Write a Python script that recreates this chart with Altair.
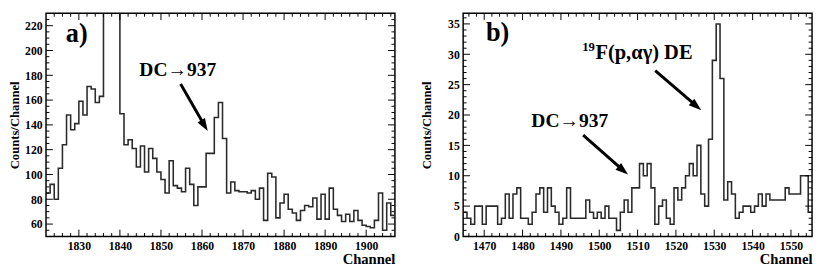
import altair as alt
import pandas as pd

FONT = "Liberation Serif"

# ---------------- panel a) ----------------
a_first_edge = 1822
a_counts = [85, 92, 80, 105, 124, 148, 136, 141, 159, 148, 171, 169, 158, 163,
            420, 1150, 980, 380,
            149, 124, 128, 121, 106, 123, 102, 121, 113, 102,
            96, 85, 111, 91, 89, 86, 105, 92, 75, 90,
            90, 117, 117, 146, 158, 129, 85, 94, 87, 86,
            86, 85, 87, 80, 89, 63, 101, 98, 65, 77,
            84, 72, 69, 63, 71, 75, 74, 81, 64, 84,
            64, 89, 72, 67, 62, 68, 62, 71, 63, 59,
            58, 57, 63, 85, 55, 77, 67]
a_x_domain = [1822, 1907]
a_y_domain = [50, 230]
a_x_labels = [1830, 1840, 1850, 1860, 1870, 1880, 1890, 1900]
a_y_labels = [60, 80, 100, 120, 140, 160, 180, 200, 220]
a_x_minor_step = 2
a_y_minor_step = 5

# ---------------- panel b) ----------------
b_first_edge = 1464.5
b_counts = [4, 3, 2, 5, 5, 2, 5, 5, 5, 2,
            3, 7, 3, 7, 8, 3, 3, 2, 4, 7,
            8, 4, 8, 5, 4, 2, 3, 8, 3, 3,
            3, 3, 6, 4, 3, 4, 3, 5, 3, 3,
            1, 4, 6, 4, 8, 8, 12, 10, 12, 8,
            2, 5, 6, 3, 2, 8, 6, 8, 10, 12,
            10, 15, 7, 5, 16, 29, 35, 26, 6, 9,
            7, 3, 4, 5, 5, 4, 5, 7, 5, 7,
            6, 6, 6, 6, 8, 7, 7, 7, 10, 10, 4]
b_x_domain = [1464.5, 1555.5]
b_y_domain = [0, 36.75]
b_x_labels = [1470, 1480, 1490, 1500, 1510, 1520, 1530, 1540, 1550]
b_y_labels = [0, 5, 10, 15, 20, 25, 30, 35]
b_x_minor_step = 2
b_y_minor_step = 1

# annotations (data coordinates)
a_texts = [
    {"x": 1829.5, "y": 213, "t": "a)", "size": 27},
    {"x": 1854.1, "y": 184, "t": "DC\u2192937", "size": 20},
]
a_arrows = [{"id": 0, "x0": 1854.8, "y0": 173, "x1": 1861.4, "y1": 135, "ang": 149}]

b_texts = [
    {"x": 1473.5, "y": 33.4, "t": "b)", "size": 27},
    {"x": 1492.3, "y": 19.0, "t": "DC\u2192937", "size": 20},
]
b_sup = [{"x": 1499.0, "ys": 30.6, "yb": 29.2}]
b_arrows = [
    {"id": 0, "x0": 1514.6, "y0": 27.3, "x1": 1526.6, "y1": 20.8, "ang": 130},
    {"id": 1, "x0": 1495.8, "y0": 16.7, "x1": 1507.5, "y1": 10.2, "ang": 130},
]

H = 229
MAJ = 7
MIN = 3.5
ARROW_PATH = "M0,0L0.75,2.2L-0.75,2.2Z"


def minor(dom, step, majors):
    import math
    start = math.ceil(dom[0] / step) * step
    out = []
    v = start
    while v <= dom[1] + 1e-9:
        if all(abs(v - m) > 1e-9 for m in majors) and dom[0] < v < dom[1]:
            out.append(v)
        v += step
    return out


def build(first_edge, counts, xdom, ydom, xlab, ylab, xstep, ystep, W,
          texts, arrows, sup=None, ytitle_pad=4):
    xs = alt.Scale(domain=xdom, nice=False, zero=False)
    ys = alt.Scale(domain=ydom, nice=False, zero=False)
    xaxis = alt.Axis(values=xlab, ticks=False, domain=False, grid=False,
                     labelFont=FONT, labelFontWeight="bold", labelFontSize=12,
                     labelPadding=4, labelColor="black", format="d",
                     title="Channel", titleFont=FONT, titleFontWeight="bold",
                     titleFontSize=15, titleAnchor="end", titlePadding=1,
                     titleColor="black")
    yaxis = alt.Axis(values=ylab, ticks=False, domain=False, grid=False,
                     labelFont=FONT, labelFontWeight="bold", labelFontSize=12,
                     labelPadding=4, labelColor="black", format="d",
                     title="Counts/Channel", titleFont=FONT,
                     titleFontWeight="bold", titleFontSize=13,
                     titlePadding=ytitle_pad, titleColor="black")

    def X(f):
        return alt.X(f, type="quantitative", scale=xs, axis=xaxis)

    def Y(f):
        return alt.Y(f, type="quantitative", scale=ys, axis=yaxis)

    edges = [first_edge + i for i in range(len(counts) + 1)]
    vals = list(counts) + [counts[-1]]
    hist_df = pd.DataFrame({"ch": edges, "n": vals})
    hist = alt.Chart(hist_df).mark_line(
        interpolate="step-after", color="#2a2a2a", strokeWidth=1.6, clip=True
    ).encode(x=X("ch"), y=Y("n"))

    layers = [hist]
    xmin = minor(xdom, xstep, xlab)
    ymin = minor(ydom, ystep, ylab)
    for vals_, L in [(xlab, MAJ), (xmin, MIN)]:
        base = alt.Chart(pd.DataFrame({"v": vals_})).mark_rule(color="black", strokeWidth=1)
        layers.append(base.encode(x=X("v"), y=alt.value(H), y2=alt.value(H - L)))
        layers.append(base.encode(x=X("v"), y=alt.value(0), y2=alt.value(L)))
    for vals_, L in [(ylab, MAJ), (ymin, MIN)]:
        base = alt.Chart(pd.DataFrame({"v": vals_})).mark_rule(color="black", strokeWidth=1)
        layers.append(base.encode(y=Y("v"), x=alt.value(0), x2=alt.value(L)))
        layers.append(base.encode(y=Y("v"), x=alt.value(W), x2=alt.value(W - L)))

    tdf = pd.DataFrame(texts)
    for size in sorted(set(tdf["size"])):
        sub = tdf[tdf["size"] == size]
        layers.append(alt.Chart(sub).mark_text(
            font=FONT, fontWeight="bold", fontSize=size, color="black",
            align="center", baseline="middle").encode(x=X("x"), y=Y("y"), text="t:N"))

    if sup:
        sdf = pd.DataFrame(sup)
        layers.append(alt.Chart(sdf).mark_text(
            font=FONT, fontWeight="bold", fontSize=13, color="black",
            align="right", baseline="alphabetic", dx=-0.5).encode(
            x=X("x"), y=Y("ys"), text=alt.value("19")))
        layers.append(alt.Chart(sdf).mark_text(
            font=FONT, fontWeight="bold", fontSize=21, color="black",
            align="left", baseline="alphabetic").encode(
            x=X("x"), y=Y("yb"), text=alt.value("F(p,\u03b1\u03b3) DE")))

    rows = []
    heads = []
    for a in arrows:
        f = 0.12  # line stops a little short of the arrow tip
        ex = a["x1"] - f * (a["x1"] - a["x0"])
        ey = a["y1"] - f * (a["y1"] - a["y0"])
        rows.append({"id": a["id"], "o": 0, "x": a["x0"], "y": a["y0"]})
        rows.append({"id": a["id"], "o": 1, "x": ex, "y": ey})
        heads.append({"x": a["x1"], "y": a["y1"], "ang": a["ang"]})
    layers.append(alt.Chart(pd.DataFrame(rows)).mark_line(color="black", strokeWidth=3).encode(
        x=X("x"), y=Y("y"), detail="id:N", order="o:Q"))
    layers.append(alt.Chart(pd.DataFrame(heads)).mark_point(
        shape=ARROW_PATH, filled=True, color="black", opacity=1, size=140, strokeWidth=0
    ).encode(x=X("x"), y=Y("y"), angle=alt.Angle("ang:Q", scale=None)))
    return alt.layer(*layers).properties(width=W, height=H)


pa = build(a_first_edge, a_counts, a_x_domain, a_y_domain, a_x_labels, a_y_labels,
           a_x_minor_step, a_y_minor_step, 358, a_texts, a_arrows, ytitle_pad=3)
pb = build(b_first_edge, b_counts, b_x_domain, b_y_domain, b_x_labels, b_y_labels,
           b_x_minor_step, b_y_minor_step, 358, b_texts, b_arrows, b_sup, ytitle_pad=14)

chart = alt.hconcat(pa, pb, spacing=24).properties(
    padding={"left": 0, "top": 0, "right": 0, "bottom": 0},
    background="white",
).configure_view(stroke="black", strokeWidth=1.5)

chart.save("out.html", embed_options={"renderer": "svg", "actions": False})
